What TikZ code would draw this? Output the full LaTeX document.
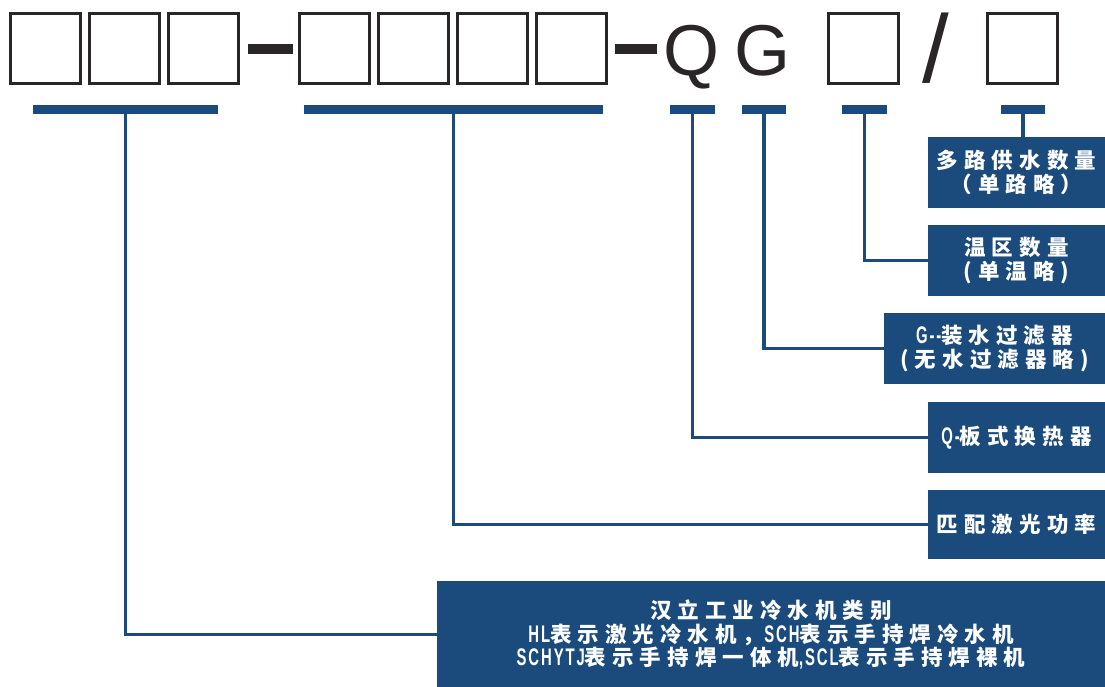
\documentclass[tikz,border=0pt]{standalone}
\usepackage{fontspec}
\setmainfont{Liberation Sans}
\newfontfamily\cjk[LetterSpace=28]{Noto Sans CJK SC}
\newfontfamily\latn[FakeStretch=0.62,LetterSpace=8]{Liberation Sans}
\newcommand\ltn[1]{{\latn\fontsize{24}{23.5}\selectfont #1}}
\usetikzlibrary{positioning,calc}
\definecolor{hlblue}{HTML}{1B4A7C}
\definecolor{inkgray}{HTML}{2A2627}

\begin{document}
\begin{tikzpicture}[
      x=1pt,y=-1pt,node distance = 6pt and 6pt,
      slotbox/.style = {rectangle,draw=inkgray,line width=3pt,minimum size=70pt,inner sep=0pt},
      dashbar/.style = {rectangle,fill=inkgray,minimum width=45pt,minimum height=10pt,inner sep=0pt,outer sep=0pt},
      codeletter/.style = {text=inkgray,font=\fontsize{72}{72}\selectfont,inner sep=0pt,anchor=base},
      underbar/.style = {rectangle,fill=hlblue,minimum height=9pt,inner sep=0pt,outer sep=0pt},
      infobox/.style = {rectangle,fill=hlblue,text=white,align=center,inner sep=0pt,outer sep=0pt,
        minimum height=71pt,minimum width=177pt,font=\cjk\bfseries\fontsize{21.5}{23.5}\selectfont},
      wire/.style = {draw=hlblue,line width=3.4pt}
    ]
      \useasboundingbox (0,0) rectangle (1105,686);

      \node (s1)[slotbox] at (45.7,48.5) {};
      \node (s2)[slotbox,right = of s1] {};
      \node (s3)[slotbox,right = of s2] {};
      \node (d1)[dashbar,right = 8pt of s3] {};
      \node (s4)[slotbox,right = 5pt of d1] {};
      \node (s5)[slotbox,right = of s4] {};
      \node (s6)[slotbox,right = of s5] {};
      \node (s7)[slotbox,right = of s6] {};
      \node (d2)[dashbar,minimum width=42pt,right = 7pt of s7] {};
      \node (q)[codeletter] at (691,75) {Q};
      \node (g)[codeletter] at (762,75) {G};
      \node (s8)[slotbox] at (863.5,48.5) {};
      \node (sl)[codeletter,font=\fontsize{96}{96}\selectfont] at (936,82) {/};
      \node (s9)[slotbox] at (1022,48.5) {};

      \node (b1)[underbar,minimum width=185pt] at (125.5,109.5) {};
      \node (b2)[underbar,minimum width=299pt] at (453.5,109.5) {};
      \node (bq)[underbar,minimum width=45pt] at (692.5,109.5) {};
      \node (bg)[underbar,minimum width=44pt] at (764,109.5) {};
      \node (b8)[underbar,minimum width=45pt] at (864.5,109.5) {};
      \node (b9)[underbar,minimum width=44pt] at (1023,109.5) {};

      \node (n9)[infobox,anchor=north east] at (1105,137) {多路供水数量\\（单路略）};
      \node (n8)[infobox,below = 17pt of n9.south east,anchor=north east] {温区数量\\(单温略)};
      \node (ng)[infobox,minimum width=221pt,below = 17pt of n8.south east,anchor=north east] {\ltn{G-{}-}装水过滤器\\(无水过滤器略)};
      \node (nq)[infobox,below = 18pt of ng.south east,anchor=north east] {\ltn{Q-}板式换热器};
      \node (np)[infobox,minimum height=69pt,below = 17pt of nq.south east,anchor=north east] {匹配激光功率};
      \node (nh)[infobox,minimum width=668pt,minimum height=107pt,below = 22pt of np.south east,anchor=north east]
        {汉立工业冷水机类别\\\ltn{HL}表示激光冷水机，\ltn{SCH}表示手持焊冷水机\\\ltn{SCHYTJ}表示手持焊一体机\ltn{,SCL}表示手持焊裸机};

      \draw [wire] (b9.south) -- (b9.south |- n9.north);
      \draw [wire] (b8.south) |- (n8.west);
      \draw [wire] (bg.south) |- (ng.west);
      \draw [wire] (bq.south) |- (nq.west);
      \draw [wire] (b2.south) |- (np.west);
      \draw [wire] (b1.south) |- (nh.west);
    \end{tikzpicture}
\end{document}
